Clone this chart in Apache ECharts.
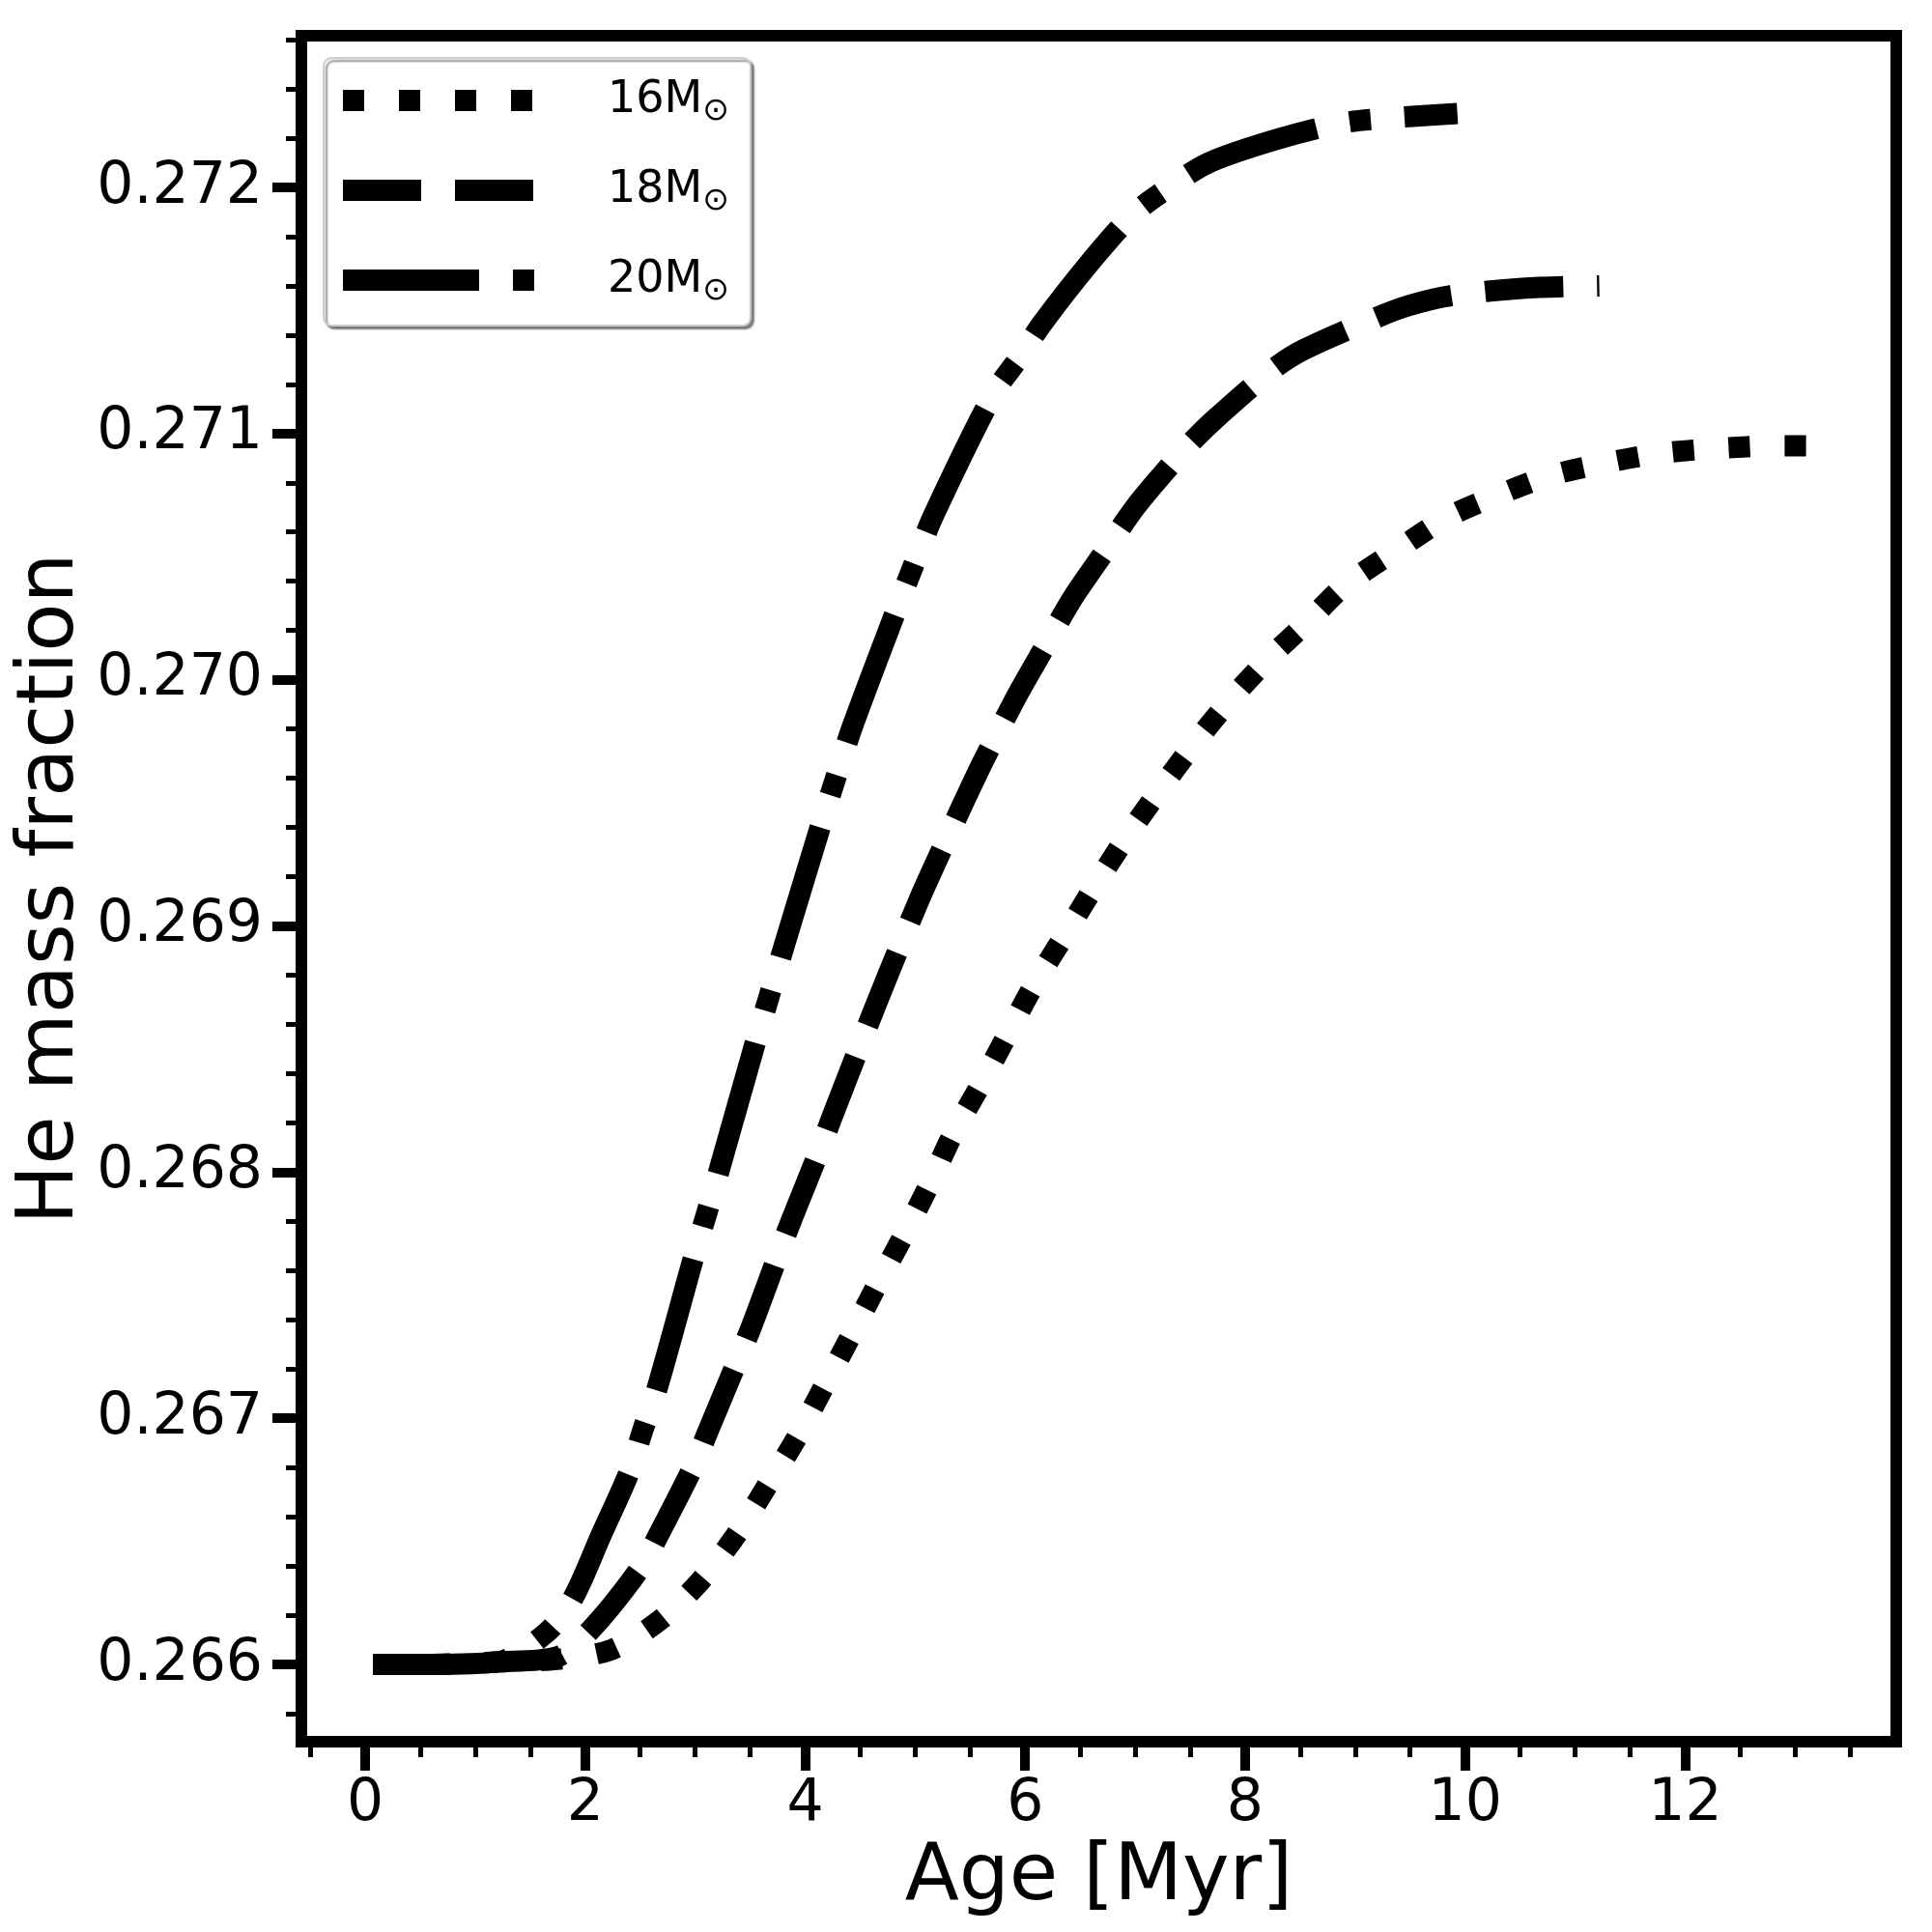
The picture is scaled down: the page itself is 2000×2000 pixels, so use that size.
<!DOCTYPE html>
<html>
<head>
<meta charset="utf-8">
<script src="https://cdn.jsdelivr.net/npm/echarts@6/dist/echarts.min.js"></script>
<style>
  html, body { margin: 0; padding: 0; background: #fff; }
  #chart { width: 2000px; height: 2000px; }
</style>
</head>
<body>
<div id="chart"></div>
<script>
// values
const seriesNames = ['16M', '18M', '20M'];

const age16 = [0.07, 0.6, 1.2, 1.74, 2.24, 2.68, 3.05, 3.38, 3.66, 3.91, 4.16, 4.41, 4.64, 4.88, 5.13, 5.35, 5.59, 5.84, 6.08, 6.37, 6.63, 6.92, 7.22, 7.52, 7.85, 8.20, 8.58, 8.90, 9.39, 9.84, 10.30, 10.78, 11.27, 11.78, 12.31, 12.82, 13.24];
const he16 = [0.26600, 0.26600, 0.26601, 0.26602, 0.26606, 0.26618, 0.26634, 0.26653, 0.26673, 0.26691, 0.26712, 0.26733, 0.26753, 0.26773, 0.26795, 0.26816, 0.26835, 0.26856, 0.26876, 0.26897, 0.26916, 0.26936, 0.26955, 0.26973, 0.26991, 0.27008, 0.27024, 0.27038, 0.27053, 0.27066, 0.27075, 0.27083, 0.27088, 0.27092, 0.27094, 0.27095, 0.27095];

const age18 = [0.07, 0.6, 1.2, 1.74, 2.05, 2.50, 2.66, 2.99, 3.11, 3.39, 3.51, 3.76, 3.88, 4.14, 4.25, 4.52, 4.77, 5.04, 5.17, 5.46, 5.62, 5.92, 6.11, 6.43, 6.66, 7.00, 7.26, 7.50, 7.73, 8.25, 8.53, 9.19, 9.49, 9.87, 10.52, 11.22];
const he18 = [0.26600, 0.26600, 0.26601, 0.26603, 0.26614, 0.26639, 0.26652, 0.26681, 0.26694, 0.26724, 0.26737, 0.26767, 0.26781, 0.26810, 0.26823, 0.26854, 0.26882, 0.26911, 0.26924, 0.26952, 0.26967, 0.26993, 0.27008, 0.27033, 0.27048, 0.27070, 0.27084, 0.27096, 0.27106, 0.27126, 0.27134, 0.27147, 0.27152, 0.27156, 0.27159, 0.27160];

const age20 = [0.07, 0.6, 1.2, 1.65, 1.89, 2.14, 2.40, 2.53, 2.66, 2.99, 3.11, 3.22, 3.55, 3.67, 3.81, 4.17, 4.27, 4.43, 4.86, 4.99, 5.17, 5.71, 5.95, 6.16, 6.58, 6.98, 7.31, 7.67, 8.25, 8.86, 9.26, 9.93];
const he20 = [0.26600, 0.26600, 0.26601, 0.26613, 0.26627, 0.26652, 0.26678, 0.26696, 0.26713, 0.26766, 0.26784, 0.26801, 0.26853, 0.26871, 0.26892, 0.26945, 0.26959, 0.26981, 0.27032, 0.27047, 0.27067, 0.27116, 0.27131, 0.27145, 0.27169, 0.27189, 0.27200, 0.27210, 0.27219, 0.27226, 0.27228, 0.27230];

const xMajorTicks = [0, 2, 4, 6, 8, 10, 12];
const xMinorTicks = [-0.5, 0.5, 1, 1.5, 2.5, 3, 3.5, 4.5, 5, 5.5, 6.5, 7, 7.5, 8.5, 9, 9.5, 10.5, 11, 11.5, 12.5, 13, 13.5];
const yMajorTicks = [0.266, 0.267, 0.268, 0.269, 0.270, 0.271, 0.272];
const yMinorTicks = [0.2658, 0.2662, 0.2664, 0.2666, 0.2668, 0.2672, 0.2674, 0.2676, 0.2678,
  0.2682, 0.2684, 0.2686, 0.2688, 0.2692, 0.2694, 0.2696, 0.2698, 0.2702, 0.2704, 0.2706, 0.2708,
  0.2712, 0.2714, 0.2716, 0.2718, 0.2722, 0.2724, 0.2726];

const FONT = 'DejaVu Sans';
const X_MIN = -0.58, X_MAX = 13.92;
const Y_MIN = 0.265686, Y_MAX = 0.272616;

const chart = echarts.init(document.getElementById('chart'));

function pairs(xs, ys) {
  return xs.map((x, i) => [x, ys[i]]);
}

function curve(name, xs, ys, dash) {
  return {
    name: name,
    type: 'line',
    data: pairs(xs, ys),
    xAxisIndex: 0,
    yAxisIndex: 0,
    symbol: 'none',
    smooth: 0.3,
    lineStyle: { color: '#000', width: 22, type: dash, cap: 'butt' },
    emphasis: { disabled: true },
    silent: true
  };
}

const option = {
  animation: false,
  backgroundColor: '#fff',
  textStyle: { fontFamily: FONT, color: '#000' },
  grid: {
    left: 312, right: 37, top: 37, bottom: 197,
    show: true, borderColor: '#000', borderWidth: 12, backgroundColor: 'transparent'
  },
  legend: {
    orient: 'vertical',
    left: 335, top: 60,
    padding: [21, 22, 19, 9],
    itemWidth: 200, itemHeight: 22, itemGap: 42,
    backgroundColor: '#fff',
    borderColor: '#cccccc', borderWidth: 2, borderRadius: 8,
    shadowColor: 'rgba(0,0,0,0.45)', shadowOffsetX: 3, shadowOffsetY: 3, shadowBlur: 2,
    data: seriesNames,
    itemStyle: { color: 'rgba(0,0,0,0)', borderWidth: 0, opacity: 0 },
    lineStyle: { width: 22, color: '#000', cap: 'butt' },
    formatter: n => '{a|' + n + '}{b|\u2299}',
    textStyle: {
      rich: {
        a: { fontFamily: FONT, fontSize: 46, lineHeight: 56, color: '#000', padding: [0, 0, 0, 69] },
        b: { fontFamily: FONT, fontSize: 33, lineHeight: 33, color: '#000', verticalAlign: 'bottom' }
      }
    }
  },
  xAxis: [
    {
      type: 'value', position: 'bottom', min: X_MIN, max: X_MAX,
      axisLine: { show: false, onZero: false }, splitLine: { show: false },
      axisTick: { customValues: xMajorTicks, length: 30, lineStyle: { color: '#000', width: 10 } },
      axisLabel: { customValues: xMajorTicks, margin: 35, fontSize: 60, fontFamily: FONT, color: '#000' },
      name: 'Age [Myr]', nameLocation: 'middle', nameGap: 101, nameMoveOverlap: false,
      nameTextStyle: { fontSize: 82, fontFamily: FONT, color: '#000' }
    },
    {
      type: 'value', position: 'bottom', min: X_MIN, max: X_MAX,
      axisLine: { show: false, onZero: false }, splitLine: { show: false }, axisLabel: { show: false },
      axisTick: { customValues: xMinorTicks, length: 16, lineStyle: { color: '#000', width: 5 } }
    }
  ],
  yAxis: [
    {
      type: 'value', position: 'left', min: Y_MIN, max: Y_MAX,
      axisLine: { show: false, onZero: false }, splitLine: { show: false },
      axisTick: { customValues: yMajorTicks, length: 30, lineStyle: { color: '#000', width: 10 } },
      axisLabel: {
        customValues: yMajorTicks, margin: 40, fontSize: 60, fontFamily: FONT, color: '#000',
        padding: [10, 0, 0, 0],
        formatter: v => v.toFixed(3)
      },
      name: 'He mass fraction', nameLocation: 'middle', nameGap: 217, nameMoveOverlap: false,
      nameTextStyle: { fontSize: 82, fontFamily: FONT, color: '#000' }
    },
    {
      type: 'value', position: 'left', min: Y_MIN, max: Y_MAX,
      axisLine: { show: false, onZero: false }, splitLine: { show: false }, axisLabel: { show: false },
      axisTick: { customValues: yMinorTicks, length: 16, lineStyle: { color: '#000', width: 5 } }
    }
  ],
  series: [
    curve('16M', age16, he16, [22, 36]),
    curve('18M', age18, he18, [81, 35]),
    curve('20M', age20, he20, [141, 35, 22, 35])
  ]
};

chart.setOption(option);
</script>
</body>
</html>
